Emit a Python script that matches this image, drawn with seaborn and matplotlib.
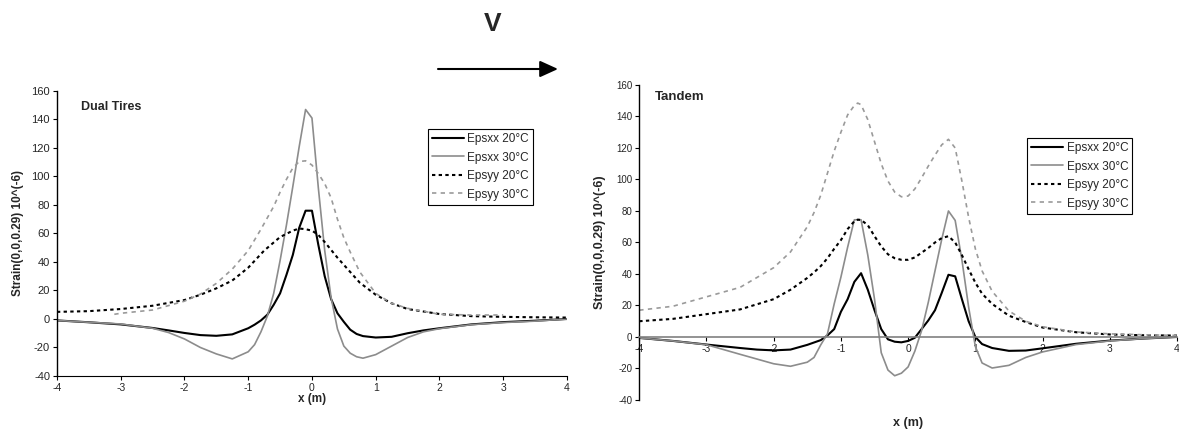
import matplotlib
matplotlib.use('Agg')
import matplotlib.pyplot as plt
from matplotlib.patches import FancyArrowPatch
import seaborn as sns
import pandas as pd

# ---- Dual tires ----
dual_xx_x = [-4, -3.5, -3, -2.5, -2.25, -2, -1.75, -1.5, -1.25, -1.0, -0.9, -0.8, -0.7, -0.6,
             -0.5, -0.4, -0.3, -0.2, -0.1, 0.0, 0.1, 0.2, 0.3, 0.4, 0.5, 0.6, 0.7, 0.8,
             1.0, 1.25, 1.5, 1.75, 2.0, 2.5, 3.0, 3.5, 4.0]
dual_epsxx_20 = [-1, -2.3, -3.8, -6.3, -8, -9.8, -11.3, -11.8, -10.8, -6.5, -4, -1, 3, 10,
                 18, 31, 45, 64, 76, 76, 52, 30, 14, 4, -2, -7.5, -10.5, -12,
                 -13, -12.5, -10, -8, -6.5, -3.8, -2.2, -1.2, 0]
dual_epsxx_30 = [-1, -2.3, -3.5, -6.5, -9.5, -14, -20, -24.5, -28, -23, -18, -9, 2, 18,
                 41, 66, 93, 121, 147, 141, 92, 48, 15, -7, -19, -24, -26.5, -27.5,
                 -25, -19, -13, -9, -6.8, -4, -2.5, -1.5, 0]

dual_yy20_x = [-4, -3.5, -3, -2.5, -2, -1.75, -1.5, -1.25, -1.0, -0.75, -0.5, -0.3, -0.2, -0.1,
               0.0, 0.1, 0.2, 0.3, 0.4, 0.5, 0.75, 1.0, 1.25, 1.5, 2.0, 2.5, 3.0, 3.5, 4.0]
dual_epsyy_20 = [5, 5.5, 7, 9.3, 13.3, 17, 21.5, 27, 36, 48, 57.5, 62, 63.5, 63,
                 62, 59, 54, 48.5, 43, 38, 25.5, 17, 11, 7, 3.5, 2, 1.5, 1.2, 1]

dual_yy30_x = [-3.1, -3, -2.5, -2, -1.75, -1.5, -1.25, -1.0, -0.8, -0.6, -0.5, -0.4, -0.3, -0.2,
               -0.1, 0.0, 0.1, 0.2, 0.3, 0.4, 0.5, 0.6, 0.75, 1.0, 1.25, 1.5, 2.0, 2.5, 3.0]
dual_epsyy_30 = [3.3, 4, 6.3, 12.5, 17.5, 25, 35, 48, 63, 79, 89, 98, 106, 110.5,
                 111, 108, 102, 95, 85, 70, 57, 47, 33, 18, 11, 7.5, 3.3, 2.8, 2.8]

# ---- Tandem ----
tand_xx_x = [-4, -3.5, -3, -2.5, -2.25, -2, -1.75, -1.5, -1.4, -1.3, -1.2, -1.1, -1.0, -0.9,
             -0.8, -0.7, -0.6, -0.5, -0.4, -0.3, -0.2, -0.1, 0, 0.1, 0.2, 0.3, 0.4, 0.5,
             0.6, 0.7, 0.8, 0.9, 1.0, 1.1, 1.25, 1.5, 1.75, 2, 2.5, 3, 3.5, 4]
tand_epsxx_20 = [-0.6, -2.5, -4.8, -7, -8, -8.5, -8, -5, -3.5, -2, 1, 5, 16, 24,
                 35, 40.5, 30, 17, 5, -1.5, -3, -3.4, -2.5, -0.5, 5, 10.5, 17, 28,
                 39.5, 38.5, 24, 10, 0, -4.5, -7, -8.8, -8.6, -7.2, -4.3, -2.3, -1, 0]
tand_epsxx_30 = [-0.6, -2.5, -4.9, -11, -14, -17, -18.6, -16, -13, -5, 2, 21, 38, 57,
                 74.4, 74.4, 52, 24, -10, -21, -24.6, -23, -19, -9, 4, 22, 42, 62,
                 80, 74, 49, 19, -6, -16.5, -19.7, -18, -13, -9.5, -4.8, -2.5, -1, 0]

tand_yy_x = [-4, -3.5, -3, -2.5, -2, -1.75, -1.5, -1.4, -1.3, -1.2, -1.1, -1.0, -0.9, -0.8,
             -0.75, -0.7, -0.6, -0.5, -0.4, -0.3, -0.2, -0.1, 0, 0.1, 0.2, 0.3, 0.4, 0.5,
             0.6, 0.7, 0.8, 0.9, 1.0, 1.1, 1.25, 1.5, 1.75, 2, 2.5, 3, 3.5, 4]
tand_epsyy_20 = [10, 11.5, 14.5, 17.5, 24, 30, 37.5, 41, 45, 50, 56, 61.5, 68.5, 73.5,
                 74.5, 74.3, 71, 64, 57.5, 52.5, 50, 49, 49, 50.5, 53.5, 56.5, 60, 62.8,
                 64, 60, 52, 43, 34.5, 27.5, 21, 13.5, 9.5, 6, 3, 1.6, 1.1, 0.9]
tand_epsyy_30 = [17, 19.5, 25.5, 31.5, 44, 54, 70, 79, 90, 104, 118, 130, 141, 147,
                 148.5, 147.5, 138, 124, 110, 99, 92, 89, 89.5, 94, 101, 108.5, 115.5, 122,
                 125.5, 120, 99, 76, 56, 42, 29, 16.5, 10, 6.5, 3.2, 2, 1.4, 1]

labels = ['Epsxx 20°C', 'Epsxx 30°C', 'Epsyy 20°C', 'Epsyy 30°C']
yticks = list(range(-40, 161, 20))
xticks = list(range(-4, 5))

sns.set_style("ticks")
plt.rcParams['font.family'] = ['Liberation Sans', 'DejaVu Sans']
plt.rcParams['axes.unicode_minus'] = False

styles = [
    dict(color='black', lw=1.5, linestyle='-'),
    dict(color='#8c8c8c', lw=1.2, linestyle='-'),
    dict(color='black', lw=1.5, linestyle=(0, (1.6, 1.6))),
    dict(color='#9a9a9a', lw=1.2, linestyle=(0, (2.6, 2.6))),
]


def draw_panel(ax, series, title, title_pos, leg_anchor, fs):
    for (xs, ys), lab, st in zip(series, labels, styles):
        df = pd.DataFrame({'x': xs, 'y': ys})
        sns.lineplot(data=df, x='x', y='y', ax=ax, label=lab, **st)
    ax.set_xlim(-4, 4)
    ax.set_ylim(-40, 160)
    ax.set_xticks(xticks)
    ax.set_yticks(yticks)
    ax.tick_params(axis='both', length=3, width=0.8, color='black', pad=2)
    ax.tick_params(axis='x', labelsize=fs['xt'])
    ax.tick_params(axis='y', labelsize=fs['yt'])
    ax.spines['top'].set_visible(False)
    ax.spines['right'].set_visible(False)
    ax.spines['left'].set_color('black')
    ax.spines['left'].set_linewidth(1.0)
    ax.set_ylabel('Strain(0,0,0.29) 10^(-6)', fontsize=fs['yl'], fontweight='bold',
                  labelpad=fs['pad'])
    ax.set_xlabel('x (m)', fontsize=fs['xl'], fontweight='bold')
    ax.text(title_pos[0], title_pos[1], title, transform=ax.transAxes,
            fontsize=fs['title'], fontweight='bold', ha='left', va='center')
    leg = ax.legend(loc='upper left', bbox_to_anchor=leg_anchor, fontsize=8.5,
                    frameon=True, fancybox=False, edgecolor='black', framealpha=1,
                    handlelength=2.7, handletextpad=0.3, labelspacing=0.55,
                    borderpad=0.35, borderaxespad=0)
    leg.get_frame().set_linewidth(0.8)


fig = plt.figure(figsize=(11.79, 4.30), dpi=100)

ax1 = fig.add_axes([0.0483, 0.1256, 0.4326, 0.6628])
draw_panel(ax1,
           [(dual_xx_x, dual_epsxx_20), (dual_xx_x, dual_epsxx_30),
            (dual_yy20_x, dual_epsyy_20), (dual_yy30_x, dual_epsyy_30)],
           'Dual Tires', (0.047, 0.944), (0.727, 0.867),
           dict(xt=7.5, yt=8, yl=8.5, xl=8.5, title=9, pad=5))
ax1.spines['bottom'].set_color('black')
ax1.xaxis.set_label_coords(0.5, -0.06)

ax2 = fig.add_axes([0.5422, 0.0698, 0.4561, 0.7326])
draw_panel(ax2,
           [(tand_xx_x, tand_epsxx_20), (tand_xx_x, tand_epsxx_30),
            (tand_yy_x, tand_epsyy_20), (tand_yy_x, tand_epsyy_30)],
           'Tandem', (0.029, 0.962), (0.721, 0.832),
           dict(xt=7.5, yt=7, yl=9, xl=9, title=9.5, pad=7))
ax2.spines['bottom'].set_position(('data', 0))
ax2.spines['bottom'].set_color('#808080')
ax2.spines['bottom'].set_linewidth(1.2)
ax2.xaxis.set_label_coords(0.5, -0.053)

# direction of travel
fig.text(492.5 / 1179, 1 - 24 / 430, 'V', fontsize=19, fontweight='bold',
         ha='center', va='center')
arrow = FancyArrowPatch((438 / 1179, 1 - 69 / 430), (558 / 1179, 1 - 69 / 430),
                        transform=fig.transFigure, arrowstyle='-|>,head_length=1.1,head_width=0.5',
                        mutation_scale=10, lw=1.5, color='black', shrinkA=0, shrinkB=0)
fig.add_artist(arrow)

fig.savefig('out.png', dpi=100)
